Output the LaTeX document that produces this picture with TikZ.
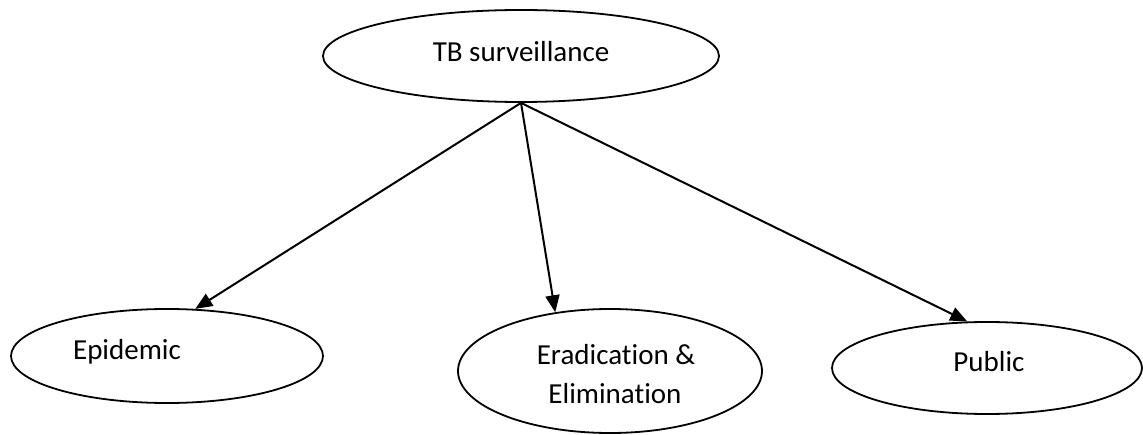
\documentclass[tikz,border=0pt]{standalone}
\usepackage{fontspec}
\setmainfont{Carlito}[Ligatures=NoCommon]
\usetikzlibrary{shapes.geometric,arrows.meta}
\tikzset{
  oval/.style={draw=black, line width=1.8pt, ellipse, inner sep=0pt, fill=white},
  caption/.style={anchor=base, inner sep=0pt, font=\fontsize{29pt}{38pt}\selectfont},
  link/.style={line width=2pt, -{Triangle[length=17pt,width=14pt]}}
}
\begin{document}
\begin{tikzpicture}[x=1pt, y=-1pt]
  \useasboundingbox (0,0) rectangle (1143,435);
  \fill[white] (0,0) rectangle (1143,435);

  % ovals
  \node[oval, minimum width=396pt, minimum height=92pt]  (top)  at (521,56)  {};
  \node[oval, minimum width=312pt, minimum height=94pt]  (epi)  at (167,356) {};
  \node[oval, minimum width=304pt, minimum height=124pt] (erad) at (610,371) {};
  \node[oval, minimum width=310pt, minimum height=92pt]  (pub)  at (987,368) {};

  % captions
  \node[caption] (topT)   at (521,62)  {TB surveillance};
  \node[caption] (epiT)   at (127,360) {Epidemic};
  \node[caption] (eradT1) at (616,365) {Eradication \&};
  \node[caption] (eradT2) at (615,403) {Elimination};
  \node[caption] (pubT)   at (989,372) {Public};

  % connectors
  \coordinate (hub) at (top.south);
  \draw[link] (hub) -- (epi.59);
  \draw[link] (hub) -- (erad.133);
  \draw[link] (hub) -- (pub.113);
\end{tikzpicture}
\end{document}
